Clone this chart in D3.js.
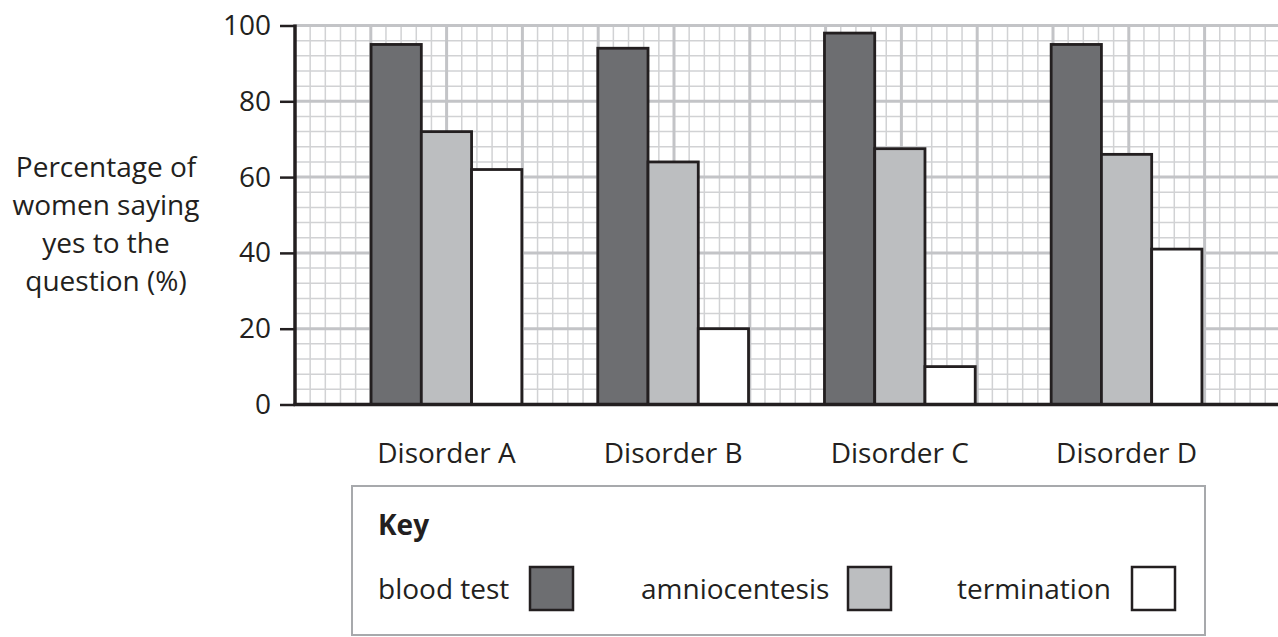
<!DOCTYPE html>
<html>
<head>
<meta charset="utf-8">
<script src="https://cdn.jsdelivr.net/npm/d3@7"></script>
<style>
  html, body { margin: 0; padding: 0; background: #fff; }
  svg { display: block; }
  text { font-family: "Open Sans", "Noto Sans", sans-serif; fill: #231f20; }
</style>
</head>
<body>
<svg id="chart" width="1278" height="637"></svg>
<script>
const categories = ["Disorder A", "Disorder B", "Disorder C", "Disorder D"];
const seriesNames = ["blood test", "amniocentesis", "termination"];
const bloodTest = [95, 94, 98, 95];
const amniocentesis = [72, 64, 67.5, 66];
const termination = [62, 20, 10, 41];
const yTicks = [0, 20, 40, 60, 80, 100];
const yTitle = ["Percentage of", "women saying", "yes to the", "question (%)"];
const seriesColors = ["#6d6e71", "#bcbec0", "#ffffff"];

const seriesValues = [bloodTest, amniocentesis, termination];
const W = 1278, H = 637;
const svg = d3.select("#chart");
const ink = "#231f20";

const plotLeft = 295, plotRight = 1278, plotTop = 25.5, plotBottom = 404.5;

const y = d3.scaleLinear().domain([0, 100]).range([plotBottom, plotTop]);
const pxPerUnit = (plotBottom - plotTop) / 100;

const x = d3.scaleBand().domain(categories)
  .range([333.1, 1239.9]).paddingInner(0.335).paddingOuter(0.1675);
const xs = d3.scaleBand().domain(seriesNames).range([0, x.bandwidth()]).padding(0);

// grid scale along x that uses the same unit as y (square graph paper)
const gx = d3.scaleLinear().domain([0, (plotRight - plotLeft) / pxPerUnit])
  .range([plotLeft, plotRight]);

const grid = svg.append("g");
const minorY = d3.range(0, 100.001, 4);
const minorX = d3.range(0, gx.domain()[1] + 0.001, 4);

grid.selectAll(".mh").data(minorY.filter(v => v % 20 !== 0)).join("line")
  .attr("x1", plotLeft).attr("x2", plotRight)
  .attr("y1", d => y(d)).attr("y2", d => y(d))
  .attr("stroke", "#d1d2d4").attr("stroke-width", 1.5);
grid.selectAll(".mv").data(minorX.filter(v => v % 20 !== 0)).join("line")
  .attr("y1", plotTop).attr("y2", plotBottom)
  .attr("x1", d => gx(d)).attr("x2", d => gx(d))
  .attr("stroke", "#d1d2d4").attr("stroke-width", 1.5);
grid.selectAll(".Mh").data(minorY.filter(v => v % 20 === 0)).join("line")
  .attr("x1", plotLeft).attr("x2", plotRight)
  .attr("y1", d => y(d)).attr("y2", d => y(d))
  .attr("stroke", "#c3c4c7").attr("stroke-width", 3);
grid.selectAll(".Mv").data(minorX.filter(v => v % 20 === 0 && v > 0)).join("line")
  .attr("y1", plotTop).attr("y2", plotBottom)
  .attr("x1", d => gx(d)).attr("x2", d => gx(d))
  .attr("stroke", "#c3c4c7").attr("stroke-width", 3);

// bars
const groups = svg.append("g").selectAll("g").data(categories).join("g")
  .attr("transform", d => `translate(${x(d)},0)`);
groups.selectAll("rect")
  .data((c, ci) => seriesNames.map((s, si) => ({ s, si, v: seriesValues[si][ci] })))
  .join("rect")
  .attr("x", d => xs(d.s))
  .attr("width", xs.bandwidth())
  .attr("y", d => y(d.v))
  .attr("height", d => y(0) - y(d.v))
  .attr("fill", d => seriesColors[d.si])
  .attr("stroke", ink).attr("stroke-width", 2.8);

// y axis
const yAxis = svg.append("g").attr("transform", `translate(${plotLeft},0)`)
  .call(d3.axisLeft(y).tickValues(yTicks).tickSize(15).tickPadding(9).tickSizeOuter(0));
yAxis.select(".domain").remove();
yAxis.selectAll(".tick line").attr("stroke", ink).attr("stroke-width", 2.5);
yAxis.selectAll(".tick text").attr("font-size", 28)
  .attr("font-family", '"Open Sans", sans-serif').attr("fill", ink);

svg.append("line").attr("x1", plotLeft).attr("x2", plotLeft)
  .attr("y1", plotTop - 1).attr("y2", plotBottom + 1.5)
  .attr("stroke", ink).attr("stroke-width", 3.5);
svg.append("line").attr("x1", plotLeft - 1.5).attr("x2", W)
  .attr("y1", plotBottom).attr("y2", plotBottom)
  .attr("stroke", ink).attr("stroke-width", 3.5);

// category labels
svg.append("g").selectAll("text").data(categories).join("text")
  .attr("x", d => x(d) + x.bandwidth() / 2)
  .attr("y", 463)
  .attr("text-anchor", "middle")
  .attr("font-size", 28)
  .text(d => d);

// y title
svg.append("text").attr("text-anchor", "middle").attr("font-size", 28)
  .selectAll("tspan").data(yTitle).join("tspan")
  .attr("x", 106).attr("y", (d, i) => 176.5 + i * 38.3)
  .text(d => d);

// legend
const lg = svg.append("g");
lg.append("rect").attr("x", 352).attr("y", 486).attr("width", 853).attr("height", 149)
  .attr("fill", "#fff").attr("stroke", "#a7a9ac").attr("stroke-width", 2);
lg.append("text").attr("x", 378).attr("y", 535).attr("font-size", 28)
  .attr("font-weight", "bold").text("Key");
const legendTextX = [378, 641, 957];
const swatchX = [530, 848, 1132];
const items = lg.selectAll(".item").data(seriesNames).join("g");
items.append("text").attr("x", (d, i) => legendTextX[i]).attr("y", 599)
  .attr("font-size", 28).text(d => d);
items.append("rect").attr("x", (d, i) => swatchX[i]).attr("y", 567)
  .attr("width", 43).attr("height", 43)
  .attr("fill", (d, i) => seriesColors[i])
  .attr("stroke", ink).attr("stroke-width", 2.5);
</script>
</body>
</html>
